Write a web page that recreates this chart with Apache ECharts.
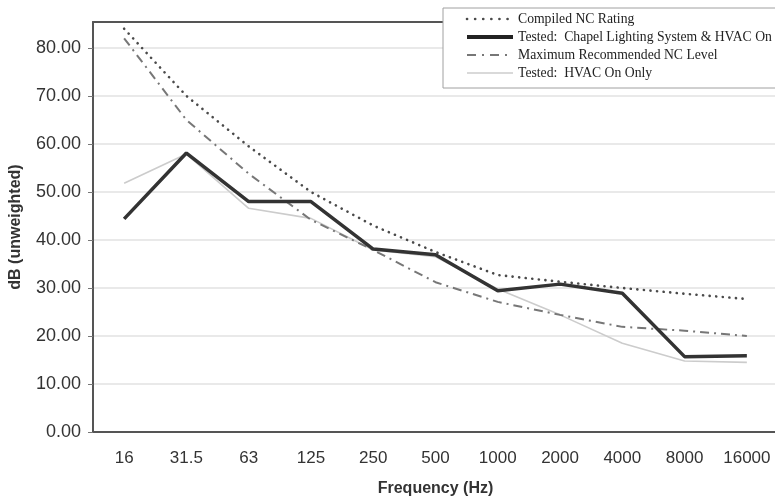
<!DOCTYPE html>
<html>
<head>
<meta charset="utf-8">
<script src="https://cdn.jsdelivr.net/npm/echarts@6/dist/echarts.min.js"></script>
<style>
  html, body { margin: 0; padding: 0; background: #fff; }
  #mainChart { width: 775px; height: 502px; }
</style>
</head>
<body>
<div id="mainChart"></div>
<script>
// 频率分类（Hz）
var frequencies = ["16", "31.5", "63", "125", "250", "500", "1000", "2000", "4000", "8000", "16000"];

// 各曲线数值（dB）
var compiledNC    = [84.0, 70.0, 59.5, 50.0, 43.0, 37.5, 32.7, 31.3, 30.0, 28.8, 27.7];
var chapelAndHvac = [44.4, 58.1, 48.0, 48.0, 38.1, 36.9, 29.4, 30.8, 28.9, 15.7, 15.9];
var maxRecommended = [82.0, 65.0, 53.8, 44.2, 37.9, 31.2, 27.1, 24.4, 21.9, 21.1, 20.0];
var hvacOnly      = [51.8, 57.9, 46.6, 44.5, 37.9, 36.5, 29.8, 24.4, 18.5, 14.8, 14.5];

var seriesNames = [
    "Compiled NC Rating",
    "Tested:  Chapel Lighting System & HVAC On",
    "Maximum Recommended NC Level",
    "Tested:  HVAC On Only"
];

(function () {
    "use strict";

    var chart = echarts.init(document.getElementById("mainChart"), null, { renderer: "canvas" });

    var axisColor = "#555555";
    var labelColor = "#333333";
    var sansFont = "'Liberation Sans', Arial, sans-serif";

    // 线型配置（线条与图例共用）
    var styles = [
        { color: "#4a4a4a", width: 2.6, type: [0.1, 6.5], cap: "round" },
        { color: "#333333", width: 3.5, type: "solid" },
        { color: "#777777", width: 2, type: [9, 5, 2, 5] },
        { color: "#cccccc", width: 1.6, type: "solid" }
    ];
    var legendStyles = [
        { color: "#4a4a4a", width: 2.6, type: [0.1, 8], cap: "round" },
        { color: "#222222", width: 4, type: "solid" },
        { color: "#777777", width: 2, type: [9, 6, 2, 6] },
        { color: "#cccccc", width: 1.6, type: "solid" }
    ];
    var dataSets = [compiledNC, chapelAndHvac, maxRecommended, hvacOnly];
    var zs = [4, 5, 3, 2];

    var series = dataSets.map(function (d, i) {
        return {
            name: seriesNames[i], type: "line", data: d, symbol: "none", z: zs[i],
            itemStyle: { color: styles[i].color },
            lineStyle: styles[i]
        };
    });

    var legendData = seriesNames.map(function (n, i) {
        return { name: n, lineStyle: legendStyles[i] };
    });

    var option = {
        backgroundColor: "#ffffff",
        animation: false,
        grid: {
            left: 93, top: 22, width: 685, height: 410,
            outerBoundsMode: "none",
            containLabel: false,
            show: false
        },
        legend: {
            orient: "vertical",
            left: 443, top: 8,
            padding: [4, 60, 8, 22],
            itemGap: 4,
            itemWidth: 46, itemHeight: 14,
            backgroundColor: "#ffffff",
            borderColor: "#a0a0a0", borderWidth: 1,
            itemStyle: { opacity: 0 },
            textStyle: { fontFamily: "'Liberation Serif', 'Times New Roman', serif", fontSize: 13.7, color: "#222" },
            data: legendData
        },
        xAxis: [
            {
                type: "category", data: frequencies, boundaryGap: true,
                axisLine: { lineStyle: { color: axisColor, width: 2 } },
                axisTick: { inside: true, length: 5, alignWithLabel: true, lineStyle: { color: "#777" } },
                axisLabel: { color: labelColor, fontSize: 17, fontFamily: sansFont, margin: 18, interval: 0 },
                name: "Frequency (Hz)", nameLocation: "middle", nameGap: 49,
                nameTextStyle: { fontFamily: sansFont, fontSize: 16, fontWeight: "bold", color: "#333" },
                splitLine: { show: false }
            },
            {
                // 仅用于画分类边界处的刻度
                type: "category", data: frequencies, boundaryGap: true, position: "bottom",
                axisLine: { show: false },
                axisTick: { inside: true, length: 5, lineStyle: { color: "#777" } },
                axisLabel: { show: false },
                splitLine: { show: false }
            },
            {
                // 顶部边框线
                type: "category", data: frequencies, position: "top",
                axisLine: { show: true, lineStyle: { color: axisColor, width: 2 } },
                axisTick: { show: false },
                axisLabel: { show: false },
                splitLine: { show: false }
            }
        ],
        yAxis: {
            type: "value", min: 0, max: 85.4, interval: 10,
            axisLine: { show: true, lineStyle: { color: axisColor, width: 2 } },
            axisTick: { show: true, inside: false, length: 5, lineStyle: { color: "#777" } },
            axisLabel: {
                color: labelColor, fontSize: 18, fontFamily: sansFont, margin: 12,
                showMaxLabel: false,
                formatter: function (v) { return v.toFixed(2); }
            },
            splitLine: { lineStyle: { color: "#e2e2e2", width: 1.5 } },
            name: "dB (unweighted)", nameLocation: "middle", nameGap: 69,
            nameTextStyle: { fontFamily: sansFont, fontSize: 16, fontWeight: "bold", color: "#333" }
        },
        series: series
    };

    chart.setOption(option);
})();
</script>
</body>
</html>
